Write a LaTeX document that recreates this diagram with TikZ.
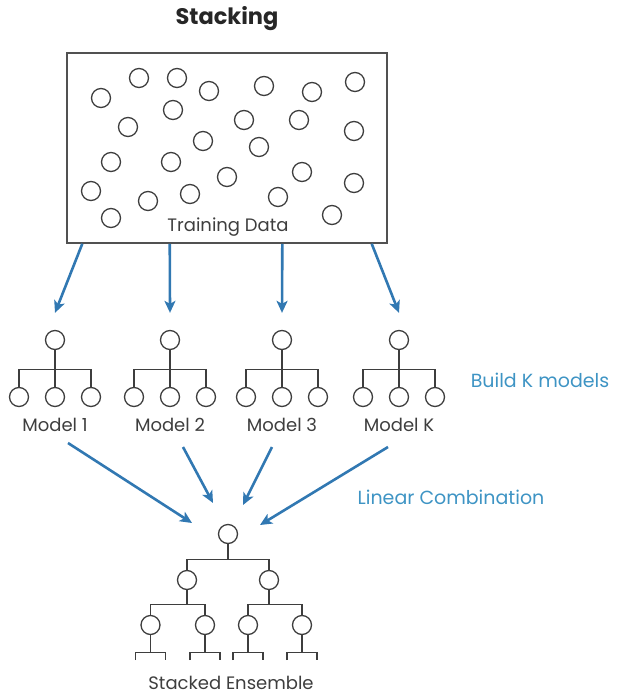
\documentclass[tikz,border=0pt]{standalone}
\usepackage{fontspec}
\setmainfont{Poppins}
\usepackage{tikz}
\usetikzlibrary{arrows.meta, calc}
\definecolor{figK}{RGB}{62,62,62}
\definecolor{figB}{RGB}{49,120,178}
\definecolor{figL}{RGB}{62,148,196}
\tikzset{
  dot/.style={circle, draw=figK, line width=1.3pt, minimum size=19pt, inner sep=0pt},
  branch/.style={draw=figK, line width=1.3pt},
  feed/.style={figB, line width=2.6pt, -{Stealth[length=12pt, width=11pt, inset=3pt]}},
  lbl/.style={text=figK, font=\fontsize{18}{21}\selectfont},
  note/.style={text=figL, font=\fontsize{19}{22}\selectfont}}

\begin{document}
\begin{tikzpicture}[x=1pt, y=-1pt]
\useasboundingbox (0,0) rectangle (617,695);
% title
\node[text=black!85, font=\fontsize{22.5}{26}\selectfont\bfseries] (title) at (227,19) {Stacking};
% training data: box with scattered points
\node[draw=figK!90, line width=1.6pt, minimum width=320pt, minimum height=190pt, inner sep=0pt] (train) at (227,148) {};
\foreach \p [count=\i] in {(101,98),(139,78),(177,78),(209,91),(264,86),(312,92),(355,82),
  (173,110),(128,127),(244,120),(299,120),(354,131),(203,141),(259,147),(111,162),
  (171,162),(227,177),(302,172),(91,191),(148,201),(190,194),(278,197),(354,183),
  (111,218),(332,215)}
  \node[dot] (d\i) at \p {};
\node[lbl] (tdata) at (228,227) {Training Data};
% the K base models
\foreach \x/\t/\f [count=\i] in {55/1/0.05, 170/2/0.322, 282/3/0.672, 399/K/0.95} {
  \node[dot] (m\i) at (\x,340) {};
  \node[dot] (lf\i a) at (\x-36,397) {};
  \node[dot] (lf\i b) at (\x,397) {};
  \node[dot] (lf\i c) at (\x+36,397) {};
  \draw[branch] (m\i.south) -- ++(0,19) -| (lf\i a.north);
  \draw[branch] (m\i.south) -- ++(0,19) -| (lf\i b.north);
  \draw[branch] (m\i.south) -- ++(0,19) -| (lf\i c.north);
  \node[lbl] (lab\i) at (\x,425) {Model \t};
  \coordinate (in\i) at ($(m\i.north)+(0,-17)$);
  \draw[feed] ($(train.south west)!\f!(train.south east)$) -- (in\i);
}
\node[note] (build) at (540,380) {Build K models};
% stacked ensemble tree
\node[dot] (e0) at (228,534) {};
\node[dot] (e1) at (187,580) {};
\node[dot] (e2) at (269,580) {};
\node[dot] (e11) at (150.5,625) {};
\node[dot] (e12) at (205,625) {};
\node[dot] (e21) at (248,625) {};
\node[dot] (e22) at (302,625) {};
\draw[branch] (e0.south) -- ++(0,15) -| (e1.north);
\draw[branch] (e0.south) -- ++(0,15) -| (e2.north);
\draw[branch] (e1.south) -- ++(0,14) -| (e11.north);
\draw[branch] (e1.south) -- ++(0,14) -| (e12.north);
\draw[branch] (e2.south) -- ++(0,14) -| (e21.north);
\draw[branch] (e2.south) -- ++(0,14) -| (e22.north);
\foreach \n in {e11,e12,e21,e22} {
  \draw[branch] (\n.south) -- ++(0,17);
  \draw[branch] ($(\n.south)+(-15,25)$) -- ++(0,-8) -- ++(30,0) -- ++(0,8);
}
\node[lbl] (ens) at (231,683) {Stacked Ensemble};
% linear combination of the model outputs
\foreach \i/\sx/\sy/\tx/\ty in {1/13/18/-36/-11, 2/13/22/-15/-31, 3/-10/22/15/-29, 4/-11/22/32/-9} {
  \coordinate (out\i) at ($(e0)+(\tx,\ty)$);
  \draw[feed] ($(lab\i)+(\sx,\sy)$) -- (out\i);
}
\node[note] (lincomb) at (451,497) {Linear Combination};
\end{tikzpicture}
\end{document}
